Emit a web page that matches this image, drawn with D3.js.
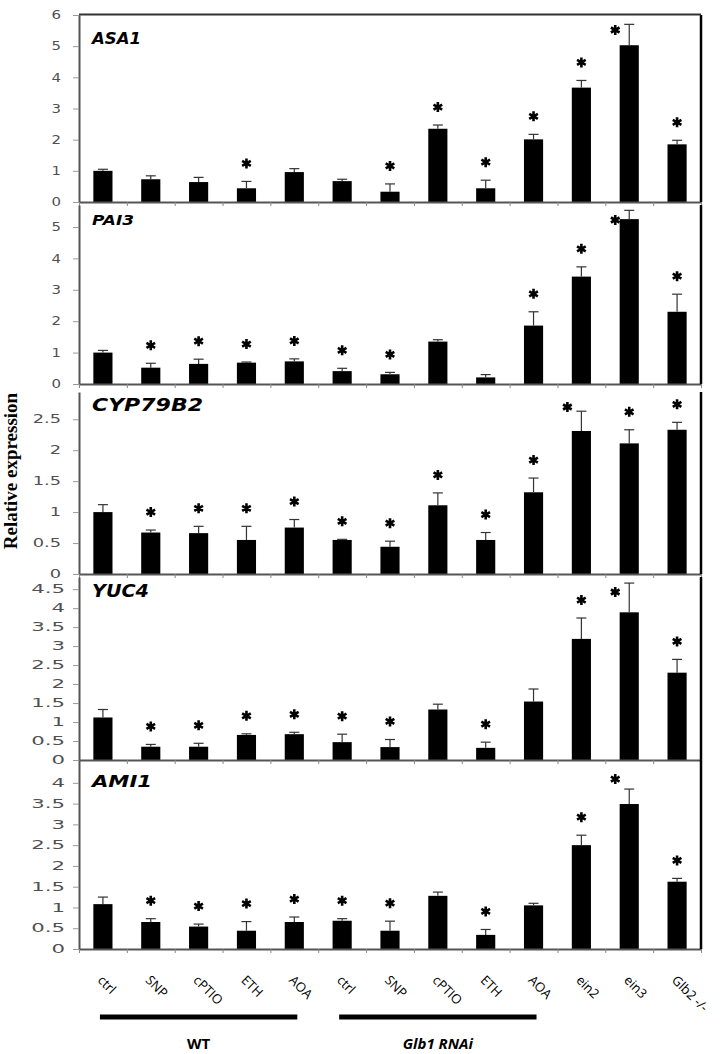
<!DOCTYPE html>
<html>
<head>
<meta charset="utf-8">
<script src="https://cdn.jsdelivr.net/npm/d3@7"></script>
<style>
body { margin: 0; background: #fff; }
svg { display: block; }
</style>
</head>
<body>
<div id="graphic"></div>
<script>
// categories along the x axis (shared by all panels)
var categories = ["ctrl", "SNP", "cPTIO", "ETH", "AOA", "ctrl", "SNP", "cPTIO", "ETH", "AOA", "ein2", "ein3", "Glb2 -/-"];
var groups = ["WT", "Glb1 RNAi"];
var groupFirst = [0, 5];
var groupLast = [4, 9];

// relative expression, error (upper whisker) and significance per gene
var asa1Mean = [1.0, 0.73, 0.64, 0.44, 0.96, 0.67, 0.33, 2.35, 0.44, 2.01, 3.67, 5.03, 1.85];
var asa1Err  = [0.05, 0.11, 0.15, 0.22, 0.11, 0.06, 0.25, 0.12, 0.26, 0.16, 0.23, 0.67, 0.13];
var asa1Sig  = [0, 0, 0, 1, 0, 0, 1, 1, 1, 1, 1, 1, 1];

var pai3Mean = [1.0, 0.52, 0.64, 0.68, 0.72, 0.41, 0.31, 1.35, 0.21, 1.86, 3.42, 5.25, 2.3];
var pai3Err  = [0.07, 0.14, 0.15, 0.02, 0.08, 0.09, 0.06, 0.06, 0.09, 0.44, 0.31, 0.28, 0.56];
var pai3Sig  = [0, 1, 1, 1, 1, 1, 1, 0, 0, 1, 1, 1, 1];

var cypMean = [1.0, 0.67, 0.66, 0.55, 0.75, 0.55, 0.44, 1.11, 0.55, 1.32, 2.31, 2.11, 2.33];
var cypErr  = [0.12, 0.04, 0.11, 0.22, 0.13, 0.01, 0.09, 0.2, 0.12, 0.23, 0.32, 0.22, 0.12];
var cypSig  = [0, 1, 1, 1, 1, 1, 1, 1, 1, 1, 1, 1, 1];

var yuc4Mean = [1.12, 0.35, 0.35, 0.66, 0.68, 0.47, 0.34, 1.33, 0.32, 1.54, 3.19, 3.89, 2.3];
var yuc4Err  = [0.21, 0.06, 0.09, 0.03, 0.05, 0.21, 0.2, 0.14, 0.15, 0.33, 0.55, 0.77, 0.35];
var yuc4Sig  = [0, 1, 1, 1, 1, 1, 1, 0, 1, 0, 1, 1, 1];

var ami1Mean = [1.08, 0.65, 0.54, 0.44, 0.65, 0.68, 0.44, 1.28, 0.34, 1.05, 2.5, 3.49, 1.62];
var ami1Err  = [0.17, 0.08, 0.06, 0.22, 0.12, 0.05, 0.23, 0.09, 0.13, 0.05, 0.24, 0.36, 0.08];
var ami1Sig  = [0, 1, 1, 1, 1, 1, 1, 0, 1, 0, 1, 1, 1];

// panel layout (pixels) - each panel has its own y scale
var panels = [
  {gene: "ASA1",    mean: asa1Mean, err: asa1Err, sig: asa1Sig, top: 15,  zero: 202, max: 6,    tickMax: 6,   step: 1,   stretch: 1.3,  gap: 18, titleDy: 29, titleSize: 15,   titleW: 49,  topLine: true},
  {gene: "PAI3",    mean: pai3Mean, err: pai3Err, sig: pai3Sig, top: 205, zero: 384, max: 5.7,  tickMax: 5,   step: 1,   stretch: 1.3,  gap: 18, titleDy: 20, titleSize: 14.5, titleW: 42},
  {gene: "CYP79B2", mean: cypMean,  err: cypErr,  sig: cypSig,  top: 392, zero: 574, max: 2.94, tickMax: 2.5, step: 0.5, stretch: 1.55, gap: 18, titleDy: 19, titleSize: 17,   titleW: 111},
  {gene: "YUC4",    mean: yuc4Mean, err: yuc4Err, sig: yuc4Sig, top: 577, zero: 760, max: 4.82, tickMax: 4.5, step: 0.5, stretch: 1.85, gap: 14, titleDy: 20, titleSize: 17,   titleW: 57},
  {gene: "AMI1",    mean: ami1Mean, err: ami1Err, sig: ami1Sig, top: 760, zero: 949, max: 4.55, tickMax: 4,   step: 0.5, stretch: 1.85, gap: 14, titleDy: 27, titleSize: 16,   titleW: 60}
];

var W = 722, H = 1054;
var left = 79, right = 701;

var svg = d3.select("#graphic").append("svg")
    .attr("width", W)
    .attr("height", H);

var x = d3.scaleBand()
    .domain(d3.range(categories.length))
    .range([left, right])
    .paddingInner(0.6)
    .paddingOuter(0.3);
var xEdge = d3.scaleLinear().domain([0, categories.length]).range([left, right]);
var bw = x.bandwidth();

var star = d3.symbol().type(d3.symbolAsterisk || d3.symbolCross).size(70);

panels.forEach(function(p) {
  var y = d3.scaleLinear().domain([0, p.max]).range([p.zero, p.top]);
  var g = svg.append("g");

  // bars
  g.selectAll("rect.bar")
    .data(p.mean)
    .join("rect")
      .attr("class", "bar")
      .attr("x", function(d, i) { return x(i); })
      .attr("y", function(d) { return y(d); })
      .attr("width", bw)
      .attr("height", function(d) { return p.zero - y(d); })
      .attr("fill", "#000");

  // error bars (upper only)
  var eb = g.selectAll("g.err")
    .data(p.mean)
    .join("g")
      .attr("class", "err")
      .attr("stroke", "#333")
      .attr("stroke-width", 1.2);
  eb.append("line")
    .attr("x1", function(d, i) { return x(i) + bw / 2; })
    .attr("x2", function(d, i) { return x(i) + bw / 2; })
    .attr("y1", function(d) { return y(d); })
    .attr("y2", function(d, i) { return y(d + p.err[i]); });
  eb.append("line")
    .attr("x1", function(d, i) { return x(i) + bw / 2 - 5; })
    .attr("x2", function(d, i) { return x(i) + bw / 2 + 5; })
    .attr("y1", function(d, i) { return y(d + p.err[i]); })
    .attr("y2", function(d, i) { return y(d + p.err[i]); });

  // significance stars
  g.selectAll("path.star")
    .data(p.mean.map(function(d, i) { return {i: i, v: d + p.err[i]}; }).filter(function(d) { return p.sig[d.i]; }))
    .join("path")
      .attr("class", "star")
      .attr("d", star)
      .attr("fill", "none")
      .attr("stroke", "#000")
      .attr("stroke-width", 2.6)
      .attr("transform", function(d) {
        var cx = x(d.i) + bw / 2, ey = y(d.v), sy = ey - 18;
        if (sy < p.top + 12) { cx -= 14; sy = Math.max(ey - 10, p.top + 15); }
        return "translate(" + cx + "," + sy + ")";
      });

  // y axis
  var ticks = d3.range(0, p.tickMax + 1e-9, p.step);
  var ya = g.append("g")
    .attr("transform", "translate(" + left + ",0)")
    .call(d3.axisLeft(y).tickValues(ticks).tickSize(6).tickSizeOuter(0).tickFormat(d3.format("~g")));
  ya.select(".domain").attr("stroke", "#555").attr("stroke-width", 2);
  ya.selectAll(".tick line").attr("stroke", "#999");
  ya.selectAll(".tick text")
    .attr("x", 0)
    .attr("transform", "translate(" + (-p.gap) + ",0) scale(" + p.stretch + ",1)")
    .attr("text-anchor", "end")
    .attr("fill", "#505050")
    .style("font-family", "'DejaVu Sans', sans-serif")
    .style("font-size", "11.5px");

  // x axis line with category boundary ticks
  var xa = g.append("g")
    .attr("transform", "translate(0," + p.zero + ")")
    .call(d3.axisBottom(xEdge).tickValues(d3.range(categories.length + 1)).tickSize(4).tickSizeOuter(0).tickFormat(""));
  xa.select(".domain").attr("stroke", "#555").attr("stroke-width", 2);
  xa.selectAll(".tick line").attr("stroke", "#888");

  // frame
  g.append("line")
    .attr("x1", right).attr("x2", right)
    .attr("y1", p.top).attr("y2", p.zero)
    .attr("stroke", "#000").attr("stroke-width", 2.5);
  if (p.topLine) {
    g.append("line")
      .attr("x1", left).attr("x2", right)
      .attr("y1", p.top - 0.5).attr("y2", p.top - 0.5)
      .attr("stroke", "#333").attr("stroke-width", 2);
  }

  // gene title
  g.append("text")
    .attr("x", 92)
    .attr("y", p.top + p.titleDy)
    .attr("textLength", p.titleW)
    .attr("lengthAdjust", "spacingAndGlyphs")
    .style("font-family", "'DejaVu Sans', sans-serif")
    .style("font-weight", "bold")
    .style("font-style", "italic")
    .style("font-size", p.titleSize + "px")
    .text(p.gene);
});

// x labels under the last panel
var lastZero = panels[panels.length - 1].zero;
svg.append("g").selectAll("text")
  .data(categories)
  .join("text")
    .attr("transform", function(d, i) {
      return "translate(" + (x(i) + bw / 2 - 6) + "," + (lastZero + 32) + ") rotate(45)";
    })
    .style("font-family", "'Open Sans', sans-serif")
    .style("font-size", "13px")
    .attr("fill", "#000")
    .text(function(d) { return d; });

// group bars and labels
var gb = svg.append("g");
groups.forEach(function(name, k) {
  var x1 = x(groupFirst[k]) + bw / 2 - 3;
  var x2 = x(groupLast[k]) + bw / 2 + 3;
  gb.append("line")
    .attr("x1", x1).attr("x2", x2)
    .attr("y1", 1017).attr("y2", 1017)
    .attr("stroke", "#000").attr("stroke-width", 5);
  gb.append("text")
    .attr("x", (x1 + x2) / 2)
    .attr("y", 1049)
    .attr("text-anchor", "middle")
    .style("font-family", "'Open Sans', sans-serif")
    .style("font-weight", "bold")
    .style("font-style", k === 1 ? "italic" : "normal")
    .style("font-size", "15px")
    .text(name);
});

// y axis title
svg.append("text")
  .attr("transform", "translate(17,471) rotate(-90)")
  .attr("text-anchor", "middle")
  .style("font-family", "'Liberation Serif', 'DejaVu Serif', serif")
  .style("font-weight", "bold")
  .style("font-size", "19px")
  .text("Relative expression");
</script>
</body>
</html>
